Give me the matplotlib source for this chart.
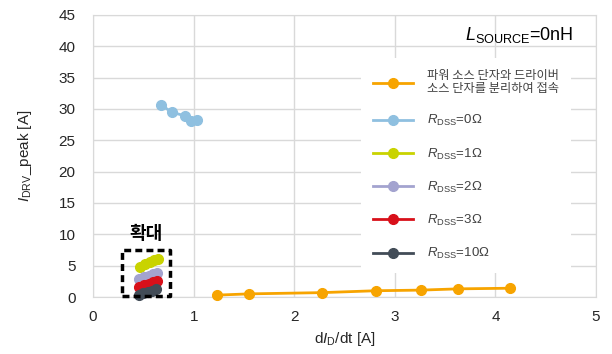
import matplotlib
matplotlib.use("Agg")
import matplotlib.pyplot as plt

plt.rcParams['font.family'] = ['Liberation Sans', 'Noto Sans CJK KR', 'DejaVu Sans']
plt.rcParams['mathtext.fontset'] = 'custom'
plt.rcParams['mathtext.rm'] = 'Liberation Sans'
plt.rcParams['mathtext.it'] = 'Liberation Sans:italic'

# data
sep_x = [1.23, 1.55, 2.28, 2.81, 3.26, 3.63, 4.14]
sep_y = [0.3, 0.5, 0.7, 1.0, 1.1, 1.3, 1.4]
r0_x = [0.68, 0.78, 0.91, 0.97, 1.03]
r0_y = [30.6, 29.5, 28.9, 28.1, 28.2]
r1_x = [0.47, 0.52, 0.57, 0.61, 0.65]
r1_y = [4.8, 5.2, 5.6, 5.9, 6.1]
r2_x = [0.46, 0.51, 0.56, 0.60, 0.64]
r2_y = [2.9, 3.2, 3.4, 3.7, 3.9]
r3_x = [0.46, 0.51, 0.56, 0.60, 0.64]
r3_y = [1.6, 1.9, 2.1, 2.4, 2.6]
r10_x = [0.46, 0.50, 0.55, 0.59, 0.63]
r10_y = [0.3, 0.6, 0.8, 1.0, 1.2]

labels = ["파워 소스 단자와 드라이버\n소스 단자를 분리하여 접속",
          r"$R_{\mathrm{DSS}}$=0Ω", r"$R_{\mathrm{DSS}}$=1Ω", r"$R_{\mathrm{DSS}}$=2Ω",
          r"$R_{\mathrm{DSS}}$=3Ω", r"$R_{\mathrm{DSS}}$=10Ω"]
colors = ['#F7A400', '#8FC0E0', '#C9D300', '#A3A3CF', '#D8101A', '#424C57']

fig = plt.figure(figsize=(6.12, 3.54), dpi=100)
ax = fig.add_axes([0.152, 0.161, 0.822, 0.797])

series = [(sep_x, sep_y), (r0_x, r0_y), (r1_x, r1_y), (r2_x, r2_y), (r3_x, r3_y), (r10_x, r10_y)]
handles = []
for i, ((xs, ys), c) in enumerate(zip(series, colors)):
    h, = ax.plot(xs, ys, '-o', color=c, lw=2, ms=7, label=labels[i], zorder=3, clip_on=False)
    handles.append(h)

ax.set_xlim(0, 5)
ax.set_ylim(0, 45)
ax.set_xticks(range(0, 6))
ax.set_yticks(range(0, 46, 5))
ax.grid(True, color='#d9d9d9', lw=1)
ax.set_axisbelow(True)
for s in ax.spines.values():
    s.set_color('#d9d9d9')
ax.tick_params(axis='x', length=0, labelsize=11, colors='#262626', pad=9.5)
ax.tick_params(axis='y', length=0, labelsize=11, colors='#262626', pad=12.5)
ax.set_xlabel(r"d$I_{\mathrm{D}}$/dt [A]", fontsize=11, color='#262626', labelpad=4)
ax.set_ylabel(r"$I_{\mathrm{DRV}}$_peak [A]", fontsize=11, color='#262626', labelpad=18)

# dashed zoom box
ax.plot([0.29, 0.77, 0.77, 0.29, 0.29], [0.1, 0.1, 7.5, 7.5, 0.1], color='black',
        lw=2.5, ls=(0, (2, 1.2)), zorder=4, clip_on=False)
ax.text(0.53, 8.6, "확대", ha='center', va='bottom', fontsize=13, fontweight='bold',
        family=['Noto Sans CJK KR'])

ax.text(0.955, 0.93, r"$L_{\mathrm{SOURCE}}$=0nH", transform=ax.transAxes,
        ha='right', va='center', fontsize=13, color='black')

leg = ax.legend(handles=handles, loc='upper left', bbox_to_anchor=(0.52, 0.872),
                frameon=True, fancybox=False, edgecolor='none', facecolor='white',
                framealpha=1, fontsize=9.5, labelspacing=1.38, handlelength=3,
                borderpad=0.9, handletextpad=1.1)
for t in leg.get_texts()[:1]:
    t.set_fontsize(8.8)
    t.set_family(['Noto Sans CJK KR'])
    t.set_linespacing(0.95)
for t in leg.get_texts():
    t.set_color('#404040')

fig.savefig('out.png', dpi=100)
